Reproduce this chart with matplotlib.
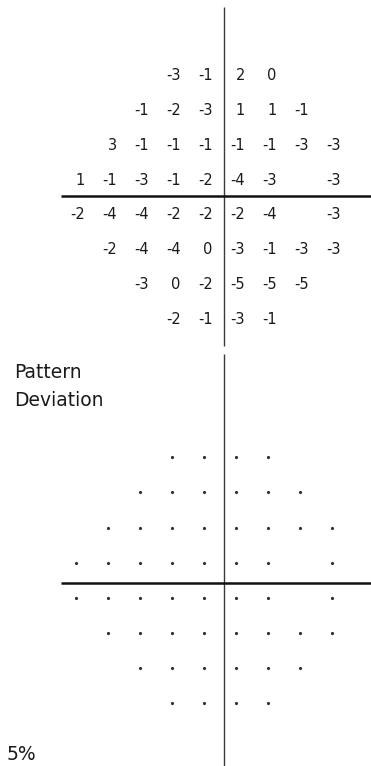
import numpy as np
import matplotlib
matplotlib.use("Agg")
import matplotlib.pyplot as plt

# ---------------- data ----------------
# 24-2 test grid (right eye), x = horizontal eccentricity (deg), y = vertical (deg)
x_deg = [-27, -21, -15, -9, -3, 3, 9, 15, 21]
y_deg = [21, 15, 9, 3, -3, -9, -15, -21]

N = None
# Pattern deviation values (dB); None = no test point
pd_row0 = [N, N, N, -3, -1, 2, 0, N, N]
pd_row1 = [N, N, -1, -2, -3, 1, 1, -1, N]
pd_row2 = [N, 3, -1, -1, -1, -1, -1, -3, -3]
pd_row3 = [1, -1, -3, -1, -2, -4, -3, N, -3]
pd_row4 = [-2, -4, -4, -2, -2, -2, -4, N, -3]
pd_row5 = [N, -2, -4, -4, 0, -3, -1, -3, -3]
pd_row6 = [N, N, -3, 0, -2, -5, -5, -5, N]
pd_row7 = [N, N, N, -2, -1, -3, -1, N, N]
pattern_dev = [pd_row0, pd_row1, pd_row2, pd_row3, pd_row4, pd_row5, pd_row6, pd_row7]

# probability level for each point (0 = not significant -> small dot)
prob_level = [[0 if v is not None else None for v in r] for r in pattern_dev]

label_title = ["Pattern", "Deviation"]
label_legend = "5%"

# ---------------- layout (pixels) ----------------
W, H, DPI = 371, 766, 100
col_px0, col_step = 75.5, 32.0           # pixel x of first column, spacing
top_center_px, top_step = 197.5, 34.8    # top panel: pixel y of fixation, row spacing
bot_center_px, bot_step = 580.2, 35.1
split_px = 383

def px_to_xdeg(px):
    c0 = col_px0 + 4.5 * col_step
    return (px - c0) / col_step * 6

fig = plt.figure(figsize=(W / DPI, H / DPI), dpi=DPI)
fig.patch.set_facecolor("white")

def make_ax(y0_px, y1_px, center_px, step):
    ax = fig.add_axes([0, 1 - y1_px / H, 1, (y1_px - y0_px) / H])
    ax.set_xlim(px_to_xdeg(0), px_to_xdeg(W))
    ax.set_ylim((center_px - y1_px) / step * 6, (center_px - y0_px) / step * 6)
    ax.axis("off")
    return ax

def ydeg(px, center_px, step):
    return (center_px - px) / step * 6

ax_top = make_ax(0, split_px, top_center_px, top_step)
ax_bot = make_ax(split_px, H, bot_center_px, bot_step)

vline_x = px_to_xdeg(223.5)
hline_x0 = px_to_xdeg(61)
line_col = "#3a3a3a"

# top panel axes lines
ax_top.plot([vline_x, vline_x], [ydeg(7, top_center_px, top_step), ydeg(346, top_center_px, top_step)],
            color=line_col, lw=1.0, solid_capstyle="butt", clip_on=False)
ax_top.plot([hline_x0, px_to_xdeg(W)], [ydeg(195.8, top_center_px, top_step)] * 2,
            color="#111111", lw=1.8, solid_capstyle="butt")

# bottom panel axes lines
ax_bot.plot([vline_x, vline_x], [ydeg(354, bot_center_px, bot_step), ydeg(H, bot_center_px, bot_step)],
            color=line_col, lw=1.0, solid_capstyle="butt", clip_on=False)
ax_bot.plot([hline_x0, px_to_xdeg(W)], [ydeg(583.3, bot_center_px, bot_step)] * 2,
            color="#111111", lw=1.8, solid_capstyle="butt")

# numbers
for r, row in enumerate(pattern_dev):
    for c, v in enumerate(row):
        if v is None:
            continue
        ax_top.text(x_deg[c] + 1.75, y_deg[r], f"{v}", ha="right", va="center",
                    fontsize=10.5, color="#1a1a1a", family="DejaVu Sans")

# probability symbols (all "not significant" dots)
xs, ys = [], []
for r, row in enumerate(prob_level):
    for c, v in enumerate(row):
        if v is None:
            continue
        xs.append(x_deg[c]); ys.append(y_deg[r])
ax_bot.plot(xs, ys, linestyle="none", marker="o", markersize=2.3,
            color="#333333", markeredgewidth=0)

# labels
fig.text(14 / W, 1 - 378 / H, label_title[0], ha="left", va="baseline",
         fontsize=13.5, family="DejaVu Sans", color="#1a1a1a")
fig.text(14 / W, 1 - 406 / H, label_title[1], ha="left", va="baseline",
         fontsize=13.5, family="DejaVu Sans", color="#1a1a1a")
fig.text(7 / W, 1 - 760 / H, label_legend, ha="left", va="baseline",
         fontsize=13.5, family="DejaVu Sans", color="#1a1a1a")

fig.savefig("out.png", dpi=DPI, facecolor="white")
